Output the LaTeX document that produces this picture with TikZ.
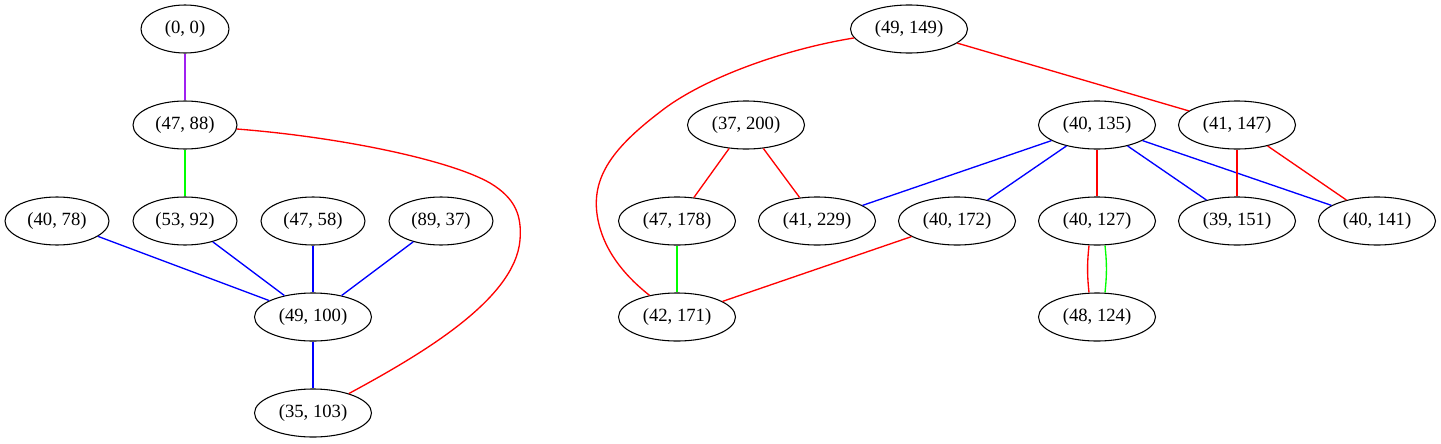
\documentclass[tikz,border=0pt]{standalone}
\usepackage{fontspec}
\setmainfont{Liberation Serif}
\usepackage{tikz}
\usetikzlibrary{shapes.geometric}
\usepackage{xcolor}
\definecolor{gvgreen}{HTML}{00FF00}
\definecolor{gvpurple}{HTML}{A020F0}
\tikzstyle{pairnode} = [ellipse, draw=black, line width=0.8pt, inner sep=0pt, minimum width=87.75pt, minimum height=36pt, text centered, font=\fontsize{14}{16}\selectfont]
\tikzstyle{pairnode1} = [pairnode, minimum width=78pt]
\tikzstyle{pairnode0} = [pairnode, minimum width=66pt]
\tikzstyle{redline} = [line width=1pt, red]
\tikzstyle{blueline} = [line width=1pt, blue]
\tikzstyle{greenline} = [line width=1pt, gvgreen]
\tikzstyle{purpleline} = [line width=1pt, gvpurple]
\begin{document}
\begin{tikzpicture}[x=0.75pt, y=-0.75pt, node distance=72pt]
            \useasboundingbox (0,0) rectangle (1441,443);
            \node (n00) [pairnode0] at (185,29) {(0, 0)};
            \node (n4788) [pairnode1, below of=n00] {(47, 88)};
            \node (n5392) [pairnode1, below of=n4788] {(53, 92)};
            \node (n4078) [pairnode1, left of=n5392, xshift=-24pt] {(40, 78)};
            \node (n4758) [pairnode1, right of=n5392, xshift=24pt] {(47, 58)};
            \node (n8937) [pairnode1, right of=n4758, xshift=24pt] {(89, 37)};
            \node (n49100) [pairnode, below of=n4758] {(49, 100)};
            \node (n35103) [pairnode, below of=n49100] {(35, 103)};
            \node (n49149) [pairnode] at (909,29) {(49, 149)};
            \node (n37200) [pairnode, below of=n49149, xshift=-122.25pt] {(37, 200)};
            \node (n40135) [pairnode, below of=n49149, xshift=141pt] {(40, 135)};
            \node (n41147) [pairnode, right of=n40135, xshift=33pt] {(41, 147)};
            \node (n47178) [pairnode, below of=n37200, xshift=-51.75pt] {(47, 178)};
            \node (n41229) [pairnode, right of=n47178, xshift=33pt] {(41, 229)};
            \node (n40172) [pairnode, right of=n41229, xshift=33pt] {(40, 172)};
            \node (n40127) [pairnode, below of=n40135] {(40, 127)};
            \node (n39151) [pairnode, below of=n41147] {(39, 151)};
            \node (n40141) [pairnode, right of=n39151, xshift=33pt] {(40, 141)};
            \node (n42171) [pairnode, below of=n47178] {(42, 171)};
            \node (n48124) [pairnode, below of=n40127] {(48, 124)};
            \draw [purpleline] (n00) -- (n4788);
            \draw [greenline] (n4788) -- (n5392);
            \draw [redline] (n4788) .. controls (340,137) and (450,160) .. (490,183) .. controls (515,198) and (522,215) .. (520,240) .. controls (515,300) and (420,355) .. (n35103);
            \draw [blueline] (n4078) -- (n49100);
            \draw [blueline] (n5392) -- (n49100);
            \draw [blueline] (n4758) -- (n49100);
            \draw [blueline] (n8937) -- (n49100);
            \draw [blueline] (n49100) -- (n35103);
            \draw [redline] (n49149) .. controls (780,50) and (700,80) .. (660,112) .. controls (610,150) and (590,180) .. (598,220) .. controls (605,255) and (630,280) .. (n42171);
            \draw [redline] (n49149) -- (n41147);
            \draw [redline] (n37200) -- (n47178);
            \draw [redline] (n37200) -- (n41229);
            \draw [blueline] (n40135) -- (n41229);
            \draw [blueline] (n40135) -- (n40172);
            \draw [redline] (n40135) -- (n40127);
            \draw [blueline] (n40135) -- (n39151);
            \draw [blueline] (n40135) -- (n40141);
            \draw [redline] (n41147) -- (n39151);
            \draw [redline] (n41147) -- (n40141);
            \draw [greenline] (n47178) -- (n42171);
            \draw [redline] (n40172) -- (n42171);
            \draw [redline] ([xshift=-6pt]n40127.south) to[bend right=6] ([xshift=-6pt]n48124.north);
            \draw [greenline] ([xshift=6pt]n40127.south) to[bend left=6] ([xshift=6pt]n48124.north);
            \end{tikzpicture}
\end{document}
